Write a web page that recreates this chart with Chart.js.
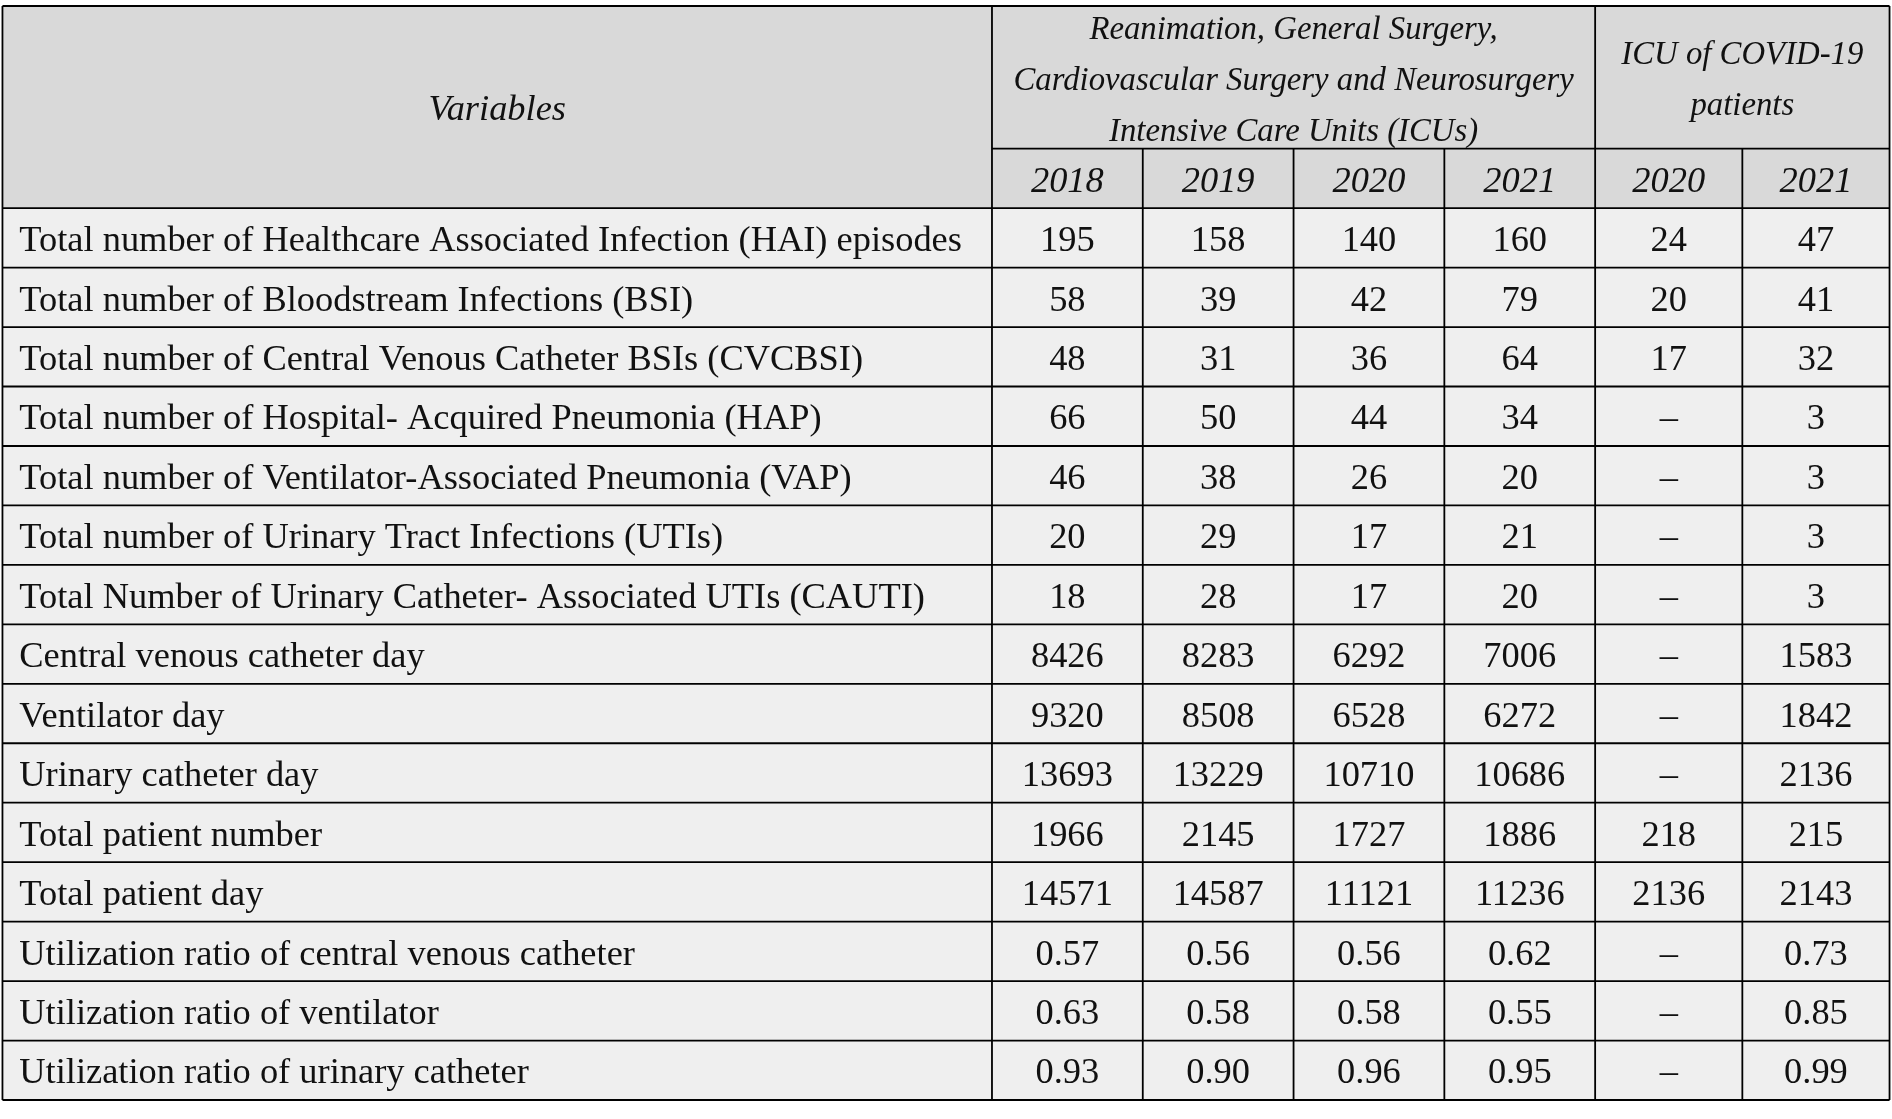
<!DOCTYPE html>
<html><head><meta charset="utf-8">
<script src="https://cdn.jsdelivr.net/npm/chart.js@4/dist/chart.umd.min.js"></script>
<style>html,body{margin:0;padding:0;background:#fff}</style>
</head><body>
<canvas id="c" width="1892" height="1119"></canvas>
<script>
const variables = [
 "Total number of Healthcare Associated Infection (HAI) episodes",
 "Total number of Bloodstream Infections (BSI)",
 "Total number of Central Venous Catheter BSIs (CVCBSI)",
 "Total number of Hospital- Acquired Pneumonia (HAP)",
 "Total number of Ventilator-Associated Pneumonia (VAP)",
 "Total number of Urinary Tract Infections (UTIs)",
 "Total Number of Urinary Catheter- Associated UTIs (CAUTI)",
 "Central venous catheter day",
 "Ventilator day",
 "Urinary catheter day",
 "Total patient number",
 "Total patient day",
 "Utilization ratio of central venous catheter",
 "Utilization ratio of ventilator",
 "Utilization ratio of urinary catheter"];
const years = ["2018","2019","2020","2021","2020","2021"];
const icu2018 = ["195","58","48","66","46","20","18","8426","9320","13693","1966","14571","0.57","0.63","0.93"];
const icu2019 = ["158","39","31","50","38","29","28","8283","8508","13229","2145","14587","0.56","0.58","0.90"];
const icu2020 = ["140","42","36","44","26","17","17","6292","6528","10710","1727","11121","0.56","0.58","0.96"];
const icu2021 = ["160","79","64","34","20","21","20","7006","6272","10686","1886","11236","0.62","0.55","0.95"];
const covid2020 = ["24","20","17","–","–","–","–","–","–","–","218","2136","–","–","–"];
const covid2021 = ["47","41","32","3","3","3","3","1583","1842","2136","215","2143","0.73","0.85","0.99"];
const groupHeaders = [["Reanimation, General Surgery,","Cardiovascular Surgery and Neurosurgery","Intensive Care Units (ICUs)"],["ICU of COVID-19","patients"]];
const cols = [icu2018,icu2019,icu2020,icu2021,covid2020,covid2021];
const colEdges = [0.0013,0.5243,0.6040,0.6837,0.7634,0.8431,0.9209,0.9987];
const FONT = '"Liberation Serif", "DejaVu Serif", serif';

const tablePlugin = {
 id:'table',
 afterDraw(chart){
  const ctx = chart.ctx, xs = chart.scales.x, ys = chart.scales.y;
  const X = v=>xs.getPixelForValue(v), Y = v=>ys.getPixelForValue(v);
  const yTop=0, yMid=2.4, yHead=3.4, nR=variables.length;
  const rowY = i=>yHead+i;
  ctx.save();
  ctx.fillStyle='#d9d9d9';
  ctx.fillRect(X(colEdges[0]),Y(yTop),X(colEdges[7])-X(colEdges[0]),Y(yHead)-Y(yTop));
  ctx.fillStyle='#efefef';
  ctx.fillRect(X(colEdges[0]),Y(yHead),X(colEdges[7])-X(colEdges[0]),Y(rowY(nR))-Y(yHead));
  ctx.strokeStyle='#000'; ctx.lineWidth=1.8;
  const line=(x1,y1,x2,y2)=>{ctx.beginPath();ctx.moveTo(x1,y1);ctx.lineTo(x2,y2);ctx.stroke();};
  const L=X(colEdges[0]),R=X(colEdges[7]);
  line(L,Y(yTop),R,Y(yTop));
  line(X(colEdges[1]),Y(yMid),R,Y(yMid));
  for(let i=0;i<=nR;i++) line(L,Y(rowY(i)),R,Y(rowY(i)));
  for(let c=0;c<8;c++){
    const top = (c===0||c===1||c===5||c===7)?yTop:yMid;
    line(X(colEdges[c]),Y(top),X(colEdges[c]),Y(rowY(nR)));
  }
  ctx.fillStyle='#111';
  const target = X(0.5085)-X(0.0102);
  ctx.font='100px '+FONT;
  const fs = 100*target/ctx.measureText(variables[0]).width;
  const off = fs*0.1;
  ctx.textBaseline='middle';
  ctx.textAlign='center';
  ctx.font='italic '+fs+'px '+FONT;
  ctx.fillText('Variables',(X(colEdges[0])+X(colEdges[1]))/2,(Y(yTop)+Y(yHead))/2+off);
  years.forEach((t,c)=>ctx.fillText(t,(X(colEdges[c+1])+X(colEdges[c+2]))/2,(Y(yMid)+Y(yHead))/2+off));
  const hfs = fs*0.9;
  ctx.font='italic '+hfs+'px '+FONT;
  const g1=groupHeaders[0], g2=groupHeaders[1];
  const lh = fs*1.4;
  const gm=(Y(yTop)+Y(yMid))/2+off;
  g1.forEach((t,i)=>ctx.fillText(t,(X(colEdges[1])+X(colEdges[5]))/2,gm+(i-(g1.length-1)/2)*lh));
  g2.forEach((t,i)=>ctx.fillText(t,(X(colEdges[5])+X(colEdges[7]))/2,gm+(i-(g2.length-1)/2)*lh));
  ctx.font=fs+'px '+FONT;
  variables.forEach((v,i)=>{
    const cy=(Y(rowY(i))+Y(rowY(i+1)))/2+off;
    ctx.textAlign='left';
    ctx.fillText(v,X(0.0102),cy);
    ctx.textAlign='center';
    cols.forEach((col,c)=>ctx.fillText(col[i],(X(colEdges[c+1])+X(colEdges[c+2]))/2,cy));
  });
  ctx.restore();
 }
};
new Chart(document.getElementById('c'),{
 type:'scatter',
 data:{datasets:[{data:[],showLine:false}]},
 options:{responsive:false,animation:false,devicePixelRatio:1,
  layout:{padding:{left:0,right:0,top:6,bottom:19}},
  plugins:{legend:{display:false},tooltip:{enabled:false}},
  scales:{x:{type:'linear',min:0,max:1,display:false},
          y:{type:'linear',min:0,max:18.4,reverse:true,display:false}}},
 plugins:[tablePlugin]
});
</script>
</body></html>
